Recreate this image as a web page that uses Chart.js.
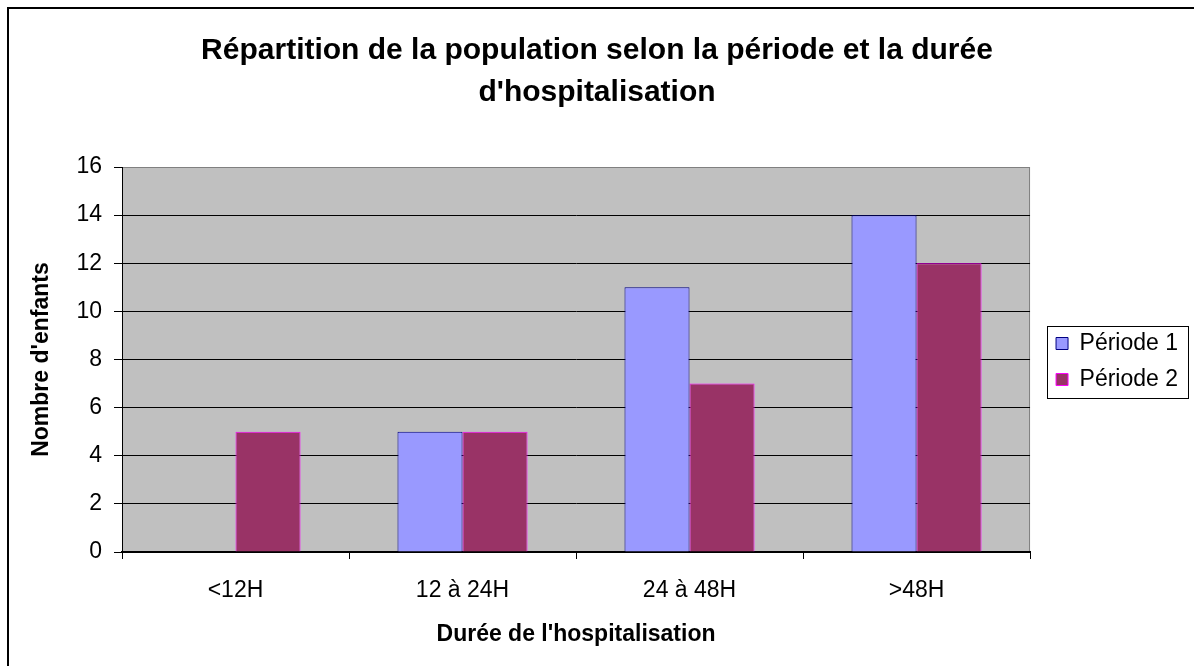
<!DOCTYPE html>
<html lang="fr">
<head>
<meta charset="utf-8">
<title>Répartition de la population</title>
<script src="https://cdn.jsdelivr.net/npm/chart.js@4.4.1/dist/chart.umd.min.js"></script>
<style>
    html, body { margin: 0; padding: 0; background: #fff; }
    .wrap { position: relative; width: 1194px; height: 666px; }
</style>
</head>
<body>
<div class="wrap"><canvas id="hospChart"></canvas></div>
<script>
// données
const categories = ['<12H', '12 à 24H', '24 à 48H', '>48H'];
const periode1 = [0, 5, 11, 14];
const periode2 = [5, 5, 7, 12];
const yTicks = [0, 2, 4, 6, 8, 10, 12, 14, 16];

const FONT = "'Liberation Sans', Arial, sans-serif";

// fond gris de la zone de tracé + cadre extérieur
const plotBg = {
    id: 'plotBg',
    afterLayout(chart) {
        // décale un peu la légende vers la droite, titre centré sur toute la largeur
        const lg = chart.legend;
        if (lg) { lg.left += 13; lg.right += 13; lg.top += 2; lg.bottom += 2; }
        if (chart.titleBlock) chart.titleBlock.right = chart.width;
    },
    beforeDraw(chart) {
        const { ctx, chartArea: a } = chart;
        ctx.save();
        ctx.fillStyle = '#c0c0c0';
        ctx.fillRect(a.left, a.top, a.right - a.left, a.bottom - a.top);
        ctx.strokeStyle = '#808080';
        ctx.lineWidth = 1;
        ctx.beginPath();
        ctx.moveTo(a.left, a.top + 0.5);
        ctx.lineTo(a.right - 0.5, a.top + 0.5);
        ctx.lineTo(a.right - 0.5, a.bottom);
        ctx.stroke();
        // cadre du graphique (bords gauche et haut visibles)
        ctx.strokeStyle = '#000';
        ctx.lineWidth = 2;
        ctx.beginPath();
        ctx.moveTo(8, 700);
        ctx.lineTo(8, 8);
        ctx.lineTo(1300, 8);
        ctx.stroke();
        ctx.restore();
    }
};

// cadre autour de la légende
const legendFrame = {
    id: 'legendFrame',
    afterDraw(chart) {
        const boxes = chart.legend && chart.legend.legendHitBoxes;
        if (!boxes || !boxes.length) return;
        const first = boxes[0], last = boxes[boxes.length - 1];
        const w = Math.max(...boxes.map(b => b.width));
        const ctx = chart.ctx;
        ctx.save();
        ctx.strokeStyle = '#000';
        ctx.lineWidth = 1;
        const l = Math.round(first.left - 9) + 0.5;
        const t = Math.round(first.top - 6.5) + 0.5;
        const r = Math.round(first.left + w + 10) + 0.5;
        const b = Math.round(last.top + last.height + 6.5) + 0.5;
        ctx.strokeRect(l, t, r - l, b - t);
        ctx.restore();
    }
};

new Chart(document.getElementById('hospChart'), {
    type: 'bar',
    data: {
        labels: categories,
        datasets: [{
            label: 'Période 1',
            data: periode1,
            backgroundColor: '#9999ff',
            borderColor: '#000080',
            borderWidth: 1
        }, {
            label: 'Période 2',
            data: periode2,
            backgroundColor: '#993366',
            borderColor: '#ff00ff',
            borderWidth: 1
        }]
    },
    options: {
        responsive: true,
        maintainAspectRatio: false,
        animation: false,
        layout: { padding: { left: 0, right: 19, top: 0, bottom: 0 } },
        datasets: {
            bar: { categoryPercentage: 0.573, barPercentage: 1 }
        },
        plugins: {
            title: {
                display: true,
                text: ['Répartition de la population selon la période et la durée', "d'hospitalisation"],
                color: '#000',
                font: { family: FONT, size: 30, weight: 'bold', lineHeight: 42 / 30 },
                padding: { top: 30, bottom: 53 }
            },
            legend: {
                position: 'right',
                fullSize: false,
                labels: {
                    color: '#000',
                    font: { family: FONT, size: 23 },
                    boxWidth: 12,
                    boxHeight: 12,
                    padding: 13
                }
            },
            tooltip: { enabled: false }
        },
        scales: {
            x: {
                afterFit: s => { s.height = 114; },
                grid: {
                    offset: true,
                    drawOnChartArea: false,
                    color: '#000',
                    tickLength: 7
                },
                border: { color: '#000', width: 2 },
                ticks: {
                    color: '#000',
                    font: { family: FONT, size: 23 },
                    padding: 18
                },
                title: {
                    display: true,
                    text: "Durée de l'hospitalisation",
                    color: '#000',
                    font: { family: FONT, size: 23, weight: 'bold' },
                    padding: { bottom: 18 }
                }
            },
            y: {
                min: 0,
                max: 16,
                afterFit: s => { s.width = 122; },
                afterBuildTicks: s => { s.ticks = yTicks.map(v => ({ value: v })); },
                grid: {
                    color: c => (c.tick && c.tick.value === 16 ? '#808080' : '#000'),
                    tickColor: '#000',
                    tickLength: 8
                },
                border: { color: '#000', width: 1 },
                ticks: {
                    color: '#000',
                    font: { family: FONT, size: 23 },
                    padding: 12
                },
                title: {
                    display: true,
                    text: "Nombre d'enfants",
                    color: '#000',
                    font: { family: FONT, size: 23, weight: 'bold' },
                    padding: { top: 28 }
                }
            }
        }
    },
    plugins: [plotBg, legendFrame]
});
</script>
</body>
</html>
